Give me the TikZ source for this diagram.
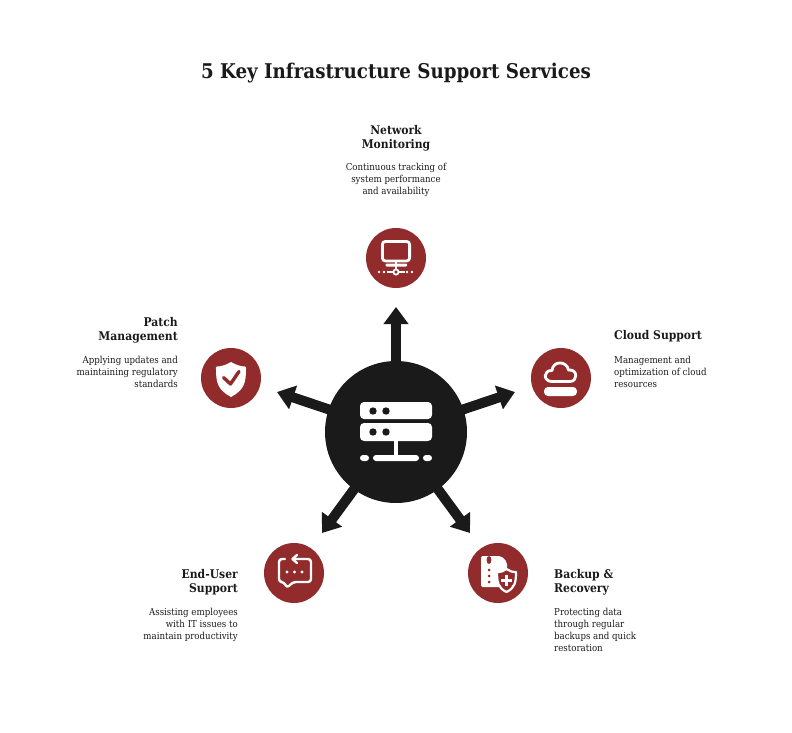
\documentclass[tikz,border=0pt]{standalone}
\usepackage{fontspec}
\setmainfont{DejaVu Serif Condensed}
\usetikzlibrary{arrows.meta}
\definecolor{darkred}{HTML}{922B2B}
\definecolor{inkblack}{HTML}{1A1A1A}
\begin{document}
\begin{tikzpicture}[x=1pt, y=-1pt, line cap=butt]
	\tikzstyle{hubnode}  = [circle, minimum size=142pt, inner sep=0pt, fill=inkblack]
	\tikzstyle{iconnode} = [circle, minimum size=60pt, inner sep=0pt, fill=darkred]
	\tikzstyle{spoke}    = [line width=10pt, draw=inkblack, shorten <=-2pt, -{Triangle[width=24pt, length=17pt]}]
	\tikzstyle{heading}  = [inner sep=0pt, font=\bfseries\fontsize{12}{14.5}\selectfont]
	\tikzstyle{blurb}    = [inner sep=0pt, font=\fontsize{9.6}{12}\selectfont]
	\tikzstyle{glyph}    = [draw=white, line width=2.8pt, line join=round, line cap=round]

	\useasboundingbox (0,0) rectangle (792,733);

	\node[inner sep=0pt, text=inkblack, font=\bfseries\fontsize{20.3}{24}\selectfont] (title) at (396,73) {5 Key Infrastructure Support Services};

	\node[hubnode] (hub) at (396,432) {};

	\foreach \name/\x/\y in {monitor/396/258, cloud/561/378, shield/231/378, chat/294/573, backup/498/573}
		\node[iconnode] (\name) at (\x,\y) {};

	\foreach \name/\x/\y in {tipA/396/307, tipB/515/392, tipC/470/533, tipD/322/533, tipE/277/392}
		\coordinate (\name) at (\x,\y);

	\foreach \to in {tipA, tipB, tipC, tipD, tipE}
		\draw[spoke] (hub) -- (\to);

	% headings and their texts
	\foreach \name/\x/\y/\anch/\alg/\txt in {
		headA/396/125/north/center/{Network\\Monitoring},
		headB/614/330/north west/left/{Cloud Support},
		headC/554/569/north west/left/{Backup \&\\Recovery},
		headD/238/569/north east/right/{End-User\\Support},
		headE/178/317/north east/right/{Patch\\Management}}
		\node[heading, text=inkblack, anchor=\anch, align=\alg] (\name) at (\x,\y) {\txt};

	\foreach \name/\x/\y/\anch/\alg/\txt in {
		textA/396/163.5/north/center/{Continuous tracking of\\system performance\\and availability},
		textB/614/356.5/north west/left/{Management and\\optimization of cloud\\resources},
		textC/554/607.5/north west/left/{Protecting data\\through regular\\backups and quick\\restoration},
		textD/238/607.5/north east/right/{Assisting employees\\with IT issues to\\maintain productivity},
		textE/178/356.5/north east/right/{Applying updates and\\maintaining regulatory\\standards}}
		\node[blurb, text=inkblack, anchor=\anch, align=\alg] (\name) at (\x,\y) {\txt};

	% hub icon
	\fill[white, rounded corners=4pt] (360,402) rectangle (432,419);
	\fill[white, rounded corners=4pt] (360,423) rectangle (432,441);
	\foreach \x/\y in {373/411, 386/411, 373/432, 386/432}
		\fill[inkblack] (\x,\y) circle[radius=3.7];
	\fill[white] (394,441) rectangle (398,456);
	\fill[white, rounded corners=3pt] (373,455) rectangle (419,461);
	\fill[white, rounded corners=3pt] (360,455) rectangle (369,461);
	\fill[white, rounded corners=3pt] (423,455) rectangle (432,461);

	% monitor icon
	\draw[glyph, rounded corners=3pt] (382.4,241.4) rectangle (409.6,261);
	\fill[white] (394.8,262) rectangle (397.2,272);
	\fill[white, rounded corners=1pt] (385.5,263.5) rectangle (407,266.5);
	\fill[white] (387,270.8) rectangle (405,273.2);
	\foreach \x in {379,384,407,412}
		\fill[white] (\x,272) circle[radius=1.4];
	\draw[white, line width=1.8pt, fill=darkred] (396,272) circle[radius=2.6];

	% cloud icon
	\draw[glyph] (552,381.5) .. controls (543,381.5) and (543,370) .. (552,370.5)
		.. controls (553,360) and (567,361) .. (568.5,370)
		.. controls (578,369) and (578,381.5) .. (570,381.5) -- cycle;
	\fill[white, rounded corners=4pt] (544,387) rectangle (577,396);

	% shield icon
	\fill[white] (231,362) .. controls (236,365) and (241,366.5) .. (245,366.5)
		.. controls (246.5,366.5) and (246,368) .. (246,369)
		.. controls (246,383) and (244,390) .. (231,397)
		.. controls (218,390) and (216,383) .. (216,369)
		.. controls (216,368) and (215.5,366.5) .. (217,366.5)
		.. controls (221,366.5) and (226,365) .. (231,362) -- cycle;
	\draw[darkred, line width=3.4pt, line cap=round, line join=round] (223.5,377.5) -- (230.5,384) -- (239,371.5);

	% chat icon
	\draw[glyph, line width=2.4pt, rounded corners=3pt] (285,559) -- (279,559) -- (279,582) -- (284,582) -- (287,588) -- (293,582) -- (311,582) -- (311,559) -- (293,559);
	\draw[white, line width=2.4pt, line cap=round, line join=round] (297,555) -- (292.5,559) -- (297,563);
	\foreach \x in {287,294.5,302}
		\fill[white] (\x,572) circle[radius=1.7];

	% backup icon
	\fill[white, rounded corners=2pt] (481,556) -- (501,556) -- (507,562) -- (507,587) -- (481,587) -- cycle;
	\fill[darkred] (489,560) ellipse[x radius=2.4, y radius=4];
	\foreach \y in {570,576,582}
		\fill[darkred] (489,\y) circle[radius=1.5];
	\draw[white, line width=2.2pt, fill=darkred, line join=round] (506.5,569) .. controls (509,571) and (512,572) .. (516,572)
		.. controls (516,582) and (515,588) .. (506.5,592)
		.. controls (498,588) and (497,582) .. (497,572)
		.. controls (501,572) and (504,571) .. (506.5,569) -- cycle;
	\draw[white, line width=2.2pt] (506.5,575) -- (506.5,586) (501,580.5) -- (512,580.5);
\end{tikzpicture}
\end{document}
